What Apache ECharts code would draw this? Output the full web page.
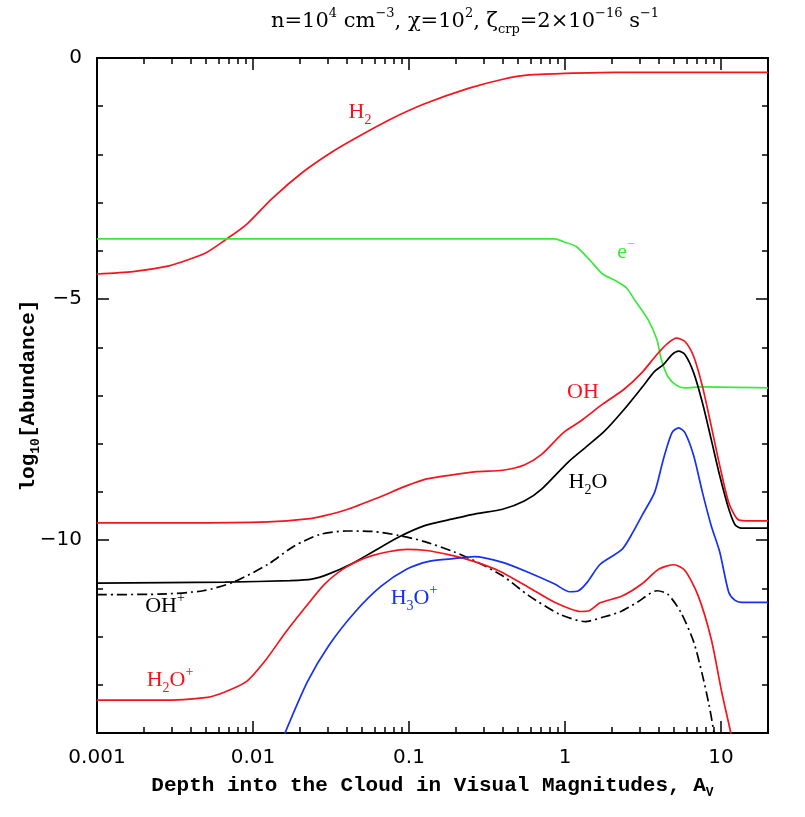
<!DOCTYPE html>
<html><head><meta charset="utf-8">
<script src="https://cdn.jsdelivr.net/npm/echarts@6/dist/echarts.min.js"></script>
<style>html,body{margin:0;padding:0;background:#fff}#c{width:805px;height:817px}</style>
</head><body><div id="c"></div>
<script>
// ---- axis ticks / labels ----
const xMajorTicks = [0.001, 0.01, 0.1, 1, 10];
const xTickLabels = ['0.001', '0.01', '0.1', '1', '10'];
const xMinorTicks = [0.002,0.003,0.004,0.005,0.006,0.007,0.008,0.009,
                     0.02,0.03,0.04,0.05,0.06,0.07,0.08,0.09,
                     0.2,0.3,0.4,0.5,0.6,0.7,0.8,0.9,
                     2,3,4,5,6,7,8,9,20];
const yMajorTicks = [0, -5, -10];
const yTickLabels = ['0', '\u22125', '\u221210'];

// ---- series data: [Av, log10 abundance] ----
const H2 = [[0.001,-4.48],[0.0017,-4.43],[0.0029,-4.31],[0.0038,-4.19],[0.005,-4.04],[0.0066,-3.78],[0.0091,-3.45],[0.0133,-2.91],[0.021,-2.36],[0.031,-1.98],[0.045,-1.67],[0.075,-1.28],[0.126,-0.95],[0.24,-0.63],[0.40,-0.44],[0.585,-0.35],[1.0,-0.32],[2.1,-0.30],[20,-0.30]];
const eMinus = [[0.001,-3.75],[0.1,-3.75],[0.86,-3.75],[0.98,-3.81],[1.18,-3.91],[1.44,-4.19],[1.74,-4.48],[2.11,-4.62],[2.48,-4.77],[2.81,-5.03],[3.41,-5.43],[3.88,-5.84],[4.14,-6.25],[4.55,-6.60],[5.18,-6.79],[5.87,-6.84],[7.6,-6.82],[20,-6.84]];
const OH = [[0.001,-9.64],[0.0035,-9.64],[0.0125,-9.62],[0.0223,-9.56],[0.0288,-9.49],[0.0396,-9.37],[0.062,-9.13],[0.097,-8.87],[0.13,-8.73],[0.185,-8.65],[0.271,-8.58],[0.398,-8.55],[0.548,-8.44],[0.708,-8.22],[0.977,-7.77],[1.26,-7.53],[1.74,-7.18],[2.39,-6.87],[3.10,-6.53],[3.88,-6.15],[4.55,-5.92],[5.18,-5.81],[5.87,-5.88],[6.68,-6.19],[7.60,-6.81],[8.65,-7.63],[9.82,-8.46],[11.2,-9.22],[12.7,-9.56],[14.4,-9.60],[20,-9.60]];
const H2O = [[0.001,-10.89],[0.0066,-10.87],[0.0173,-10.84],[0.0238,-10.81],[0.0307,-10.70],[0.0423,-10.50],[0.058,-10.25],[0.0855,-9.94],[0.126,-9.70],[0.197,-9.55],[0.271,-9.45],[0.398,-9.36],[0.548,-9.19],[0.708,-8.94],[1.04,-8.39],[1.35,-8.08],[1.79,-7.74],[2.39,-7.29],[3.10,-6.84],[3.75,-6.50],[4.27,-6.36],[4.85,-6.15],[5.35,-6.08],[5.87,-6.15],[6.68,-6.53],[7.60,-7.15],[8.65,-7.91],[9.82,-8.67],[11.2,-9.35],[12.3,-9.68],[13.5,-9.75],[20,-9.75]];
const OHplus = [[0.001,-11.13],[0.0025,-11.12],[0.0048,-11.05],[0.0075,-10.87],[0.0125,-10.50],[0.0184,-10.12],[0.027,-9.88],[0.0396,-9.81],[0.058,-9.82],[0.0855,-9.90],[0.126,-10.03],[0.197,-10.25],[0.271,-10.45],[0.398,-10.74],[0.585,-11.15],[0.916,-11.53],[1.35,-11.69],[1.74,-11.60],[2.24,-11.49],[2.90,-11.29],[3.88,-11.05],[4.55,-11.12],[5.51,-11.49],[6.68,-12.11],[7.60,-12.80],[8.38,-13.42],[8.91,-13.90],[9.3,-14.3]];
const H2Oplus = [[0.001,-13.32],[0.0025,-13.32],[0.0051,-13.26],[0.0066,-13.15],[0.0091,-12.93],[0.0121,-12.48],[0.0162,-11.91],[0.0223,-11.34],[0.0288,-10.91],[0.0396,-10.56],[0.058,-10.32],[0.097,-10.19],[0.126,-10.21],[0.185,-10.31],[0.254,-10.43],[0.373,-10.63],[0.585,-10.98],[0.859,-11.29],[1.26,-11.48],[1.44,-11.46],[1.68,-11.30],[2.32,-11.16],[3.10,-10.91],[4.0,-10.60],[5.0,-10.51],[5.87,-10.63],[7.13,-11.15],[8.65,-12.05],[10.1,-13.15],[11.5,-13.97],[12.0,-14.3]];
const H3Oplus = [[0.0158,-14.05],[0.0223,-12.94],[0.0307,-12.18],[0.0451,-11.49],[0.066,-10.96],[0.097,-10.60],[0.134,-10.44],[0.185,-10.39],[0.262,-10.34],[0.398,-10.46],[0.585,-10.67],[0.859,-10.91],[1.07,-11.07],[1.22,-11.05],[1.39,-10.87],[1.68,-10.50],[2.32,-10.19],[2.72,-9.84],[3.10,-9.50],[3.75,-9.01],[4.27,-8.32],[4.85,-7.77],[5.35,-7.67],[5.87,-7.77],[6.68,-8.25],[7.60,-9.01],[8.65,-9.70],[9.82,-10.25],[11.2,-11.08],[12.3,-11.25],[13.5,-11.29],[20,-11.29]];

const RED = '#f4141e', GREEN = '#3ce83c', BLUE = '#1432f0', BLACK = '#000';
const MONO = '"Liberation Mono", monospace';
const SERIF = '"Liberation Serif", serif';
const DSERIF = '"DejaVu Serif", serif';
const SANS = '"DejaVu Sans", sans-serif';

function xAxis(pos, ticks, len, withLabels) {
  return {
    type: 'log', logBase: 10, min: 0.001, max: 20, position: pos, gridIndex: 0,
    axisLine: { show: true, onZero: false, lineStyle: { color: '#000', width: 2 } },
    axisTick: { show: true, inside: true, length: len, customValues: ticks, lineStyle: { color: '#000', width: 1.5 } },
    axisLabel: withLabels ? {
      show: true, customValues: xMajorTicks, margin: 15, color: '#000', fontFamily: SANS, fontSize: 20,
      formatter: v => { const i = xMajorTicks.findIndex(t => Math.abs(Math.log10(t) - Math.log10(v)) < 1e-6); return i >= 0 ? xTickLabels[i] : ''; }
    } : { show: false },
    splitLine: { show: false }, minorTick: { show: false }, minorSplitLine: { show: false }
  };
}
function yAxis(pos, len, major, withLabels) {
  const a = {
    type: 'value', min: -14, max: 0, interval: 1, position: pos, gridIndex: 0,
    axisLine: { show: true, onZero: false, lineStyle: { color: '#000', width: 2 } },
    axisTick: { show: true, inside: true, length: len, lineStyle: { color: '#000', width: 1.5 } },
    axisLabel: withLabels ? {
      show: true, customValues: yMajorTicks, margin: 15, color: '#000', fontFamily: SANS, fontSize: 20,
      formatter: v => { const i = yMajorTicks.indexOf(Math.round(v)); return i >= 0 ? yTickLabels[i] : ''; }
    } : { show: false },
    splitLine: { show: false }
  };
  if (major) a.axisTick.customValues = yMajorTicks;
  return a;
}

const nameStyle = { color: '#000', fontFamily: MONO, fontWeight: 'bold', fontSize: 21, lineHeight: 26,
  rich: { n: { fontFamily: MONO, fontWeight: 'bold', fontSize: 21, lineHeight: 26, color: '#000' },
          sub: { fontFamily: MONO, fontWeight: 'bold', fontSize: 13, lineHeight: 12, verticalAlign: 'bottom', color: '#000' } } };

const xAxes = [xAxis('bottom', xMajorTicks, 12, true), xAxis('bottom', xMinorTicks, 6, false),
               xAxis('top', xMajorTicks, 12, false), xAxis('top', xMinorTicks, 6, false)];
xAxes[0].name = '{n|Depth into the Cloud in Visual Magnitudes, A}{sub|V}';
xAxes[0].nameLocation = 'middle';
xAxes[0].nameGap = 40;
xAxes[0].nameMoveOverlap = false;
xAxes[0].nameTextStyle = nameStyle;

const yAxes = [yAxis('left', 12, true, true), yAxis('left', 6, false, false),
               yAxis('right', 12, true, false), yAxis('right', 6, false, false)];
yAxes[0].name = '{n|log}{sub|10}{n|[Abundance]}';
yAxes[0].nameLocation = 'middle';
yAxes[0].nameGap = 55;
yAxes[0].nameMoveOverlap = false;
yAxes[0].nameTextStyle = nameStyle;

function line(name, data, color, dash) {
  return { name, type: 'line', data, xAxisIndex: 0, yAxisIndex: 0, showSymbol: false, smooth: 0.25,
    clip: true, lineStyle: { color, width: 1.7, type: dash || 'solid' }, z: 3, silent: true };
}

function richLabel(x, y, text, color, size, font, ratio) {
  size = size || 22;
  font = font || SERIF;
  const small = Math.round(size * (ratio || 0.62));
  return { type: 'text', x, y, z: 10, style: {
    text, fill: color, fontFamily: font, fontSize: size, align: 'center', verticalAlign: 'middle',
    rich: {
      n: { fill: color, fontFamily: font, fontSize: size, lineHeight: size + 8 },
      sub: { fill: color, fontFamily: font, fontSize: small, lineHeight: small, verticalAlign: 'bottom' },
      sup: { fill: color, fontFamily: font, fontSize: small, lineHeight: small, verticalAlign: 'top' }
    } } };
}

const chart = echarts.init(document.getElementById('c'), null, { renderer: 'canvas' });
chart.setOption({
  animation: false,
  backgroundColor: '#fff',
  grid: { left: 97, right: 37, top: 58, bottom: 84, containLabel: false, outerBoundsMode: 'none' },
  xAxis: xAxes,
  yAxis: yAxes,
  series: [
    line('H2', H2, RED),
    line('e-', eMinus, GREEN),
    line('OH', OH, RED),
    line('H2O', H2O, BLACK),
    line('OH+', OHplus, BLACK, [10, 4, 2, 4]),
    line('H2O+', H2Oplus, RED),
    line('H3O+', H3Oplus, BLUE)
  ],
  graphic: [
    richLabel(465, 22, '{n|n=10}{sup|4}{n| cm}{sup|\u22123}{n|, \u03c7=10}{sup|2}{n|, \u03b6}{sub|crp}{n|=2\u00d710}{sup|\u221216}{n| s}{sup|\u22121}', '#000', 21, DSERIF, 0.64),
    richLabel(360, 112, '{n|H}{sub|2}', RED),
    richLabel(626, 252, '{n|e}{sup|\u2212}', GREEN),
    richLabel(583, 392, '{n|OH}', RED),
    richLabel(588, 482, '{n|H}{sub|2}{n|O}', BLACK),
    richLabel(165, 606, '{n|OH}{sup|+}', BLACK),
    richLabel(414, 598, '{n|H}{sub|3}{n|O}{sup|+}', BLUE),
    richLabel(170, 680, '{n|H}{sub|2}{n|O}{sup|+}', RED)
  ]
});
</script></body></html>
